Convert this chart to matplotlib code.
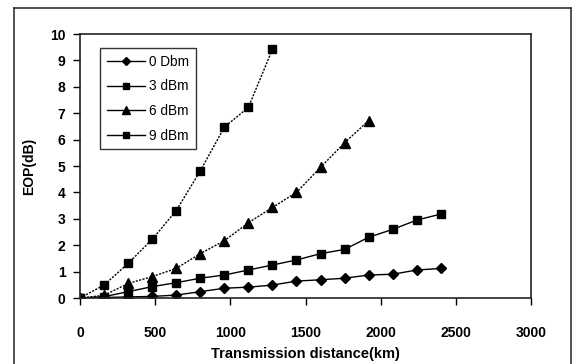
import matplotlib
matplotlib.use("Agg")
import matplotlib.pyplot as plt
from matplotlib.lines import Line2D

plt.rcParams['font.family'] = ['Liberation Sans', 'DejaVu Sans']

x_all = [0, 160, 320, 480, 640, 800, 960, 1120, 1280, 1440, 1600, 1760, 1920, 2080, 2240, 2400]
eop_0dbm = [0, 0.02, 0.04, 0.06, 0.11, 0.24, 0.37, 0.41, 0.49, 0.64, 0.69, 0.75, 0.87, 0.90, 1.06, 1.12]
eop_3dbm = [0, 0.05, 0.24, 0.43, 0.58, 0.75, 0.87, 1.06, 1.25, 1.44, 1.68, 1.84, 2.30, 2.60, 2.95, 3.18]
eop_6dbm = [0, 0.10, 0.55, 0.81, 1.12, 1.68, 2.17, 2.85, 3.43, 4.00, 4.95, 5.88, 6.72]
eop_9dbm = [0, 0.49, 1.31, 2.22, 3.31, 4.81, 6.47, 7.22, 9.42]
labels = ['0 Dbm', '3 dBm', '6 dBm', '9 dBm']

fig = plt.figure(figsize=(5.74, 3.64), dpi=100)
ax = fig.add_axes([80/574, 66/364, (531-80)/574, (298-34)/364])

ax.plot(x_all[:len(eop_0dbm)], eop_0dbm, color='black', lw=1.0, marker='D', ms=5, label=labels[0])
ax.plot(x_all[:len(eop_3dbm)], eop_3dbm, color='black', lw=1.0, marker='s', ms=5.5, label=labels[1])
ax.plot(x_all[:len(eop_6dbm)], eop_6dbm, color='black', lw=1.0, ls=(0, (1.5, 1)), marker='^', ms=6.5, label=labels[2])
ax.plot(x_all[:len(eop_9dbm)], eop_9dbm, color='black', lw=1.0, ls=(0, (1.5, 1)), marker='s', ms=5.5, label=labels[3])

ax.set_xlim(0, 3000)
ax.set_ylim(0, 10)
ax.set_xticks(range(0, 3001, 500))
ax.set_yticks(range(0, 11))
ax.tick_params(direction='out', length=5, width=1.0, labelsize=10)
ax.tick_params(axis='y', pad=5.5)
ax.tick_params(axis='x', pad=15)
for lab in ax.get_xticklabels() + ax.get_yticklabels():
    lab.set_fontweight('bold')
for s in ax.spines.values():
    s.set_linewidth(1.2)
    s.set_color('#222222')

ax.set_xlabel('Transmission distance(km)', fontsize=10.5, fontweight='bold', labelpad=5)
ax.set_ylabel('EOP(dB)', fontsize=10, fontweight='bold', labelpad=10)

handles = [Line2D([], [], color='black', lw=1.0, marker=m, ms=ms) for m, ms in
           [('D', 4.5), ('s', 5), ('^', 6), ('s', 5)]]
leg = ax.legend(handles, labels, loc='upper left', bbox_to_anchor=(20/451, 1 - 14/264),
                fontsize=9.8, frameon=True, fancybox=False, handlelength=2.8,
                handletextpad=0.3, labelspacing=0.78, borderpad=0.5, borderaxespad=0)
leg.get_frame().set_edgecolor('black')
leg.get_frame().set_linewidth(1.0)

# outer frame around the figure
W, H = 574, 364
fig.add_artist(Line2D([14/W, 14/W], [0, 1 - 8/H], color='#333333', lw=1.2, transform=fig.transFigure))
fig.add_artist(Line2D([14/W, 571/W], [1 - 8/H, 1 - 8/H], color='#333333', lw=1.2, transform=fig.transFigure))
fig.add_artist(Line2D([571/W, 571/W], [0, 1 - 8/H], color='#333333', lw=1.2, transform=fig.transFigure))

fig.savefig('out.png', dpi=100)
